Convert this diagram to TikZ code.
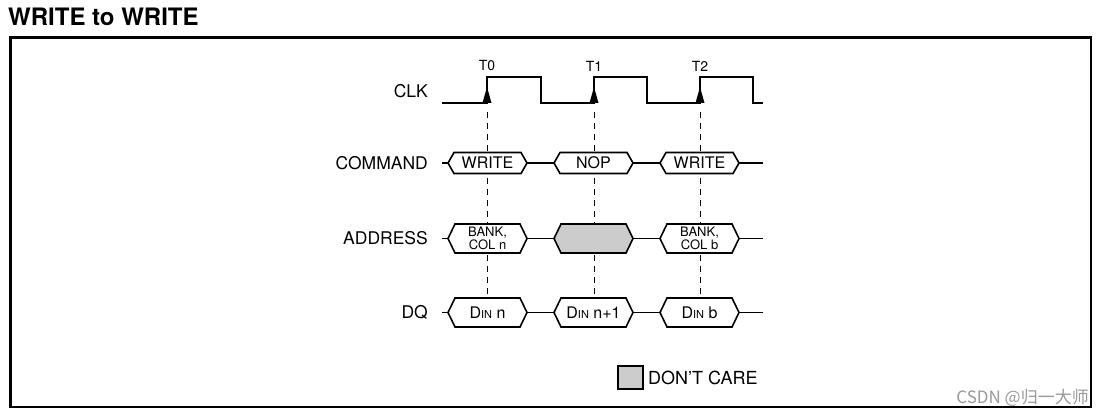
\documentclass[tikz,border=0pt]{standalone}
\usepackage{fontspec}
\setmainfont{TeX Gyre Heros}
\newfontfamily\cjkfont{Noto Sans CJK SC}
\usetikzlibrary{arrows.meta}

% one bus segment: [fill] x, y, half height, slant
\newcommand{\busbox}[5][white]{%
  \draw[bus,fill=#1] (#2,#3) -- ++(#5,-#4) -- ++({79-2*#5},0) -- ++(#5,#4)
    -- ++(-#5,#4) -- ++({-79+2*#5},0) -- cycle;}

\begin{document}
\begin{tikzpicture}[x=1pt,y=-1pt,
    sig/.style={line width=1.6pt},
    bus/.style={line width=1.6pt,line join=miter},
    dontcare/.style={fill=black!20},
    tline/.style={line width=0.8pt,dash pattern=on 6pt off 5pt},
    lbl/.style={anchor=east,inner sep=0pt,font=\fontsize{17.5}{17.5}\selectfont},
    txt/.style={inner sep=0pt,font=\fontsize{16}{16}\selectfont},
    small/.style={inner sep=0pt,align=center,font=\fontsize{13}{11}\selectfont}]

\useasboundingbox (0,0) rectangle (1107,417);
\node[anchor=west,inner sep=0pt,font=\bfseries\fontsize{24}{24}\selectfont] (title) at (8,17) {WRITE to WRITE};
\draw[line width=2.4pt] (10.5,37.5) rectangle (1091,407);

% clock and reference lines
\node[lbl] (clk) at (428,91) {CLK};
\foreach \t/\x in {0/487,1/594,2/700}{
  \draw[tline] (\x,112) -- (\x,298);
  \node[inner sep=0pt,font=\fontsize{14}{14}\selectfont] (t\t) at (\x,66) {T\t};
}
\draw[sig] (442,103) -- (487,103) -- (487,77) -- (541,77) -- (541,103) -- (594,103)
  -- (594,77) -- (647,77) -- (647,103) -- (700,103) -- (700,77) -- (753,77)
  -- (753,103) -- (763,103);
\foreach \x in {487,594,700}
  \fill ({\x},87) -- ({\x-4.5},103) -- ({\x+4.5},103) -- cycle;

% rows
\node[lbl] (command) at (428,163) {COMMAND};
\node[lbl] (address) at (428,238.5) {ADDRESS};
\node[lbl] (dq) at (428,312.5) {DQ};
\foreach \y in {163,238.5,312.5}
  \draw[sig] (442,\y) -- (763,\y);

\busbox{448}{163}{10.5}{6}
\busbox{554}{163}{10.5}{6}
\busbox{660}{163}{10.5}{6}
\busbox{448}{238.5}{14.5}{7}
\busbox[black!20]{554}{238.5}{14.5}{7}
\busbox{660}{238.5}{14.5}{7}
\busbox{448}{312.5}{14.5}{7}
\busbox{554}{312.5}{14.5}{7}
\busbox{660}{312.5}{14.5}{7}

\node[txt] (cmd1) at (487.5,163) {WRITE};
\node[txt] (cmd2) at (593.5,163) {NOP};
\node[txt] (cmd3) at (699.5,163) {WRITE};
\node[small] (addr1) at (487.5,238.5) {BANK,\\COL n};
\node[small] (addr3) at (699.5,238.5) {BANK,\\COL b};
\node[txt] (dq1) at (487.5,312.5) {D{\fontsize{11}{11}\selectfont IN} n};
\node[txt] (dq2) at (593.5,312.5) {D{\fontsize{11}{11}\selectfont IN} n+1};
\node[txt] (dq3) at (699.5,312.5) {D{\fontsize{11}{11}\selectfont IN} b};

% legend
\draw[line width=1.2pt,dontcare] (618,366) rectangle (643,389);
\node[anchor=west,inner sep=0pt,font=\fontsize{18}{18}\selectfont] (legend) at (648,377.5) {DON'T CARE};

\node[anchor=east,inner sep=0pt,text=black!40,font=\cjkfont\fontsize{17}{17}\selectfont] (mark) at (1089,398) {CSDN @归一大师};
\end{tikzpicture}
\end{document}
